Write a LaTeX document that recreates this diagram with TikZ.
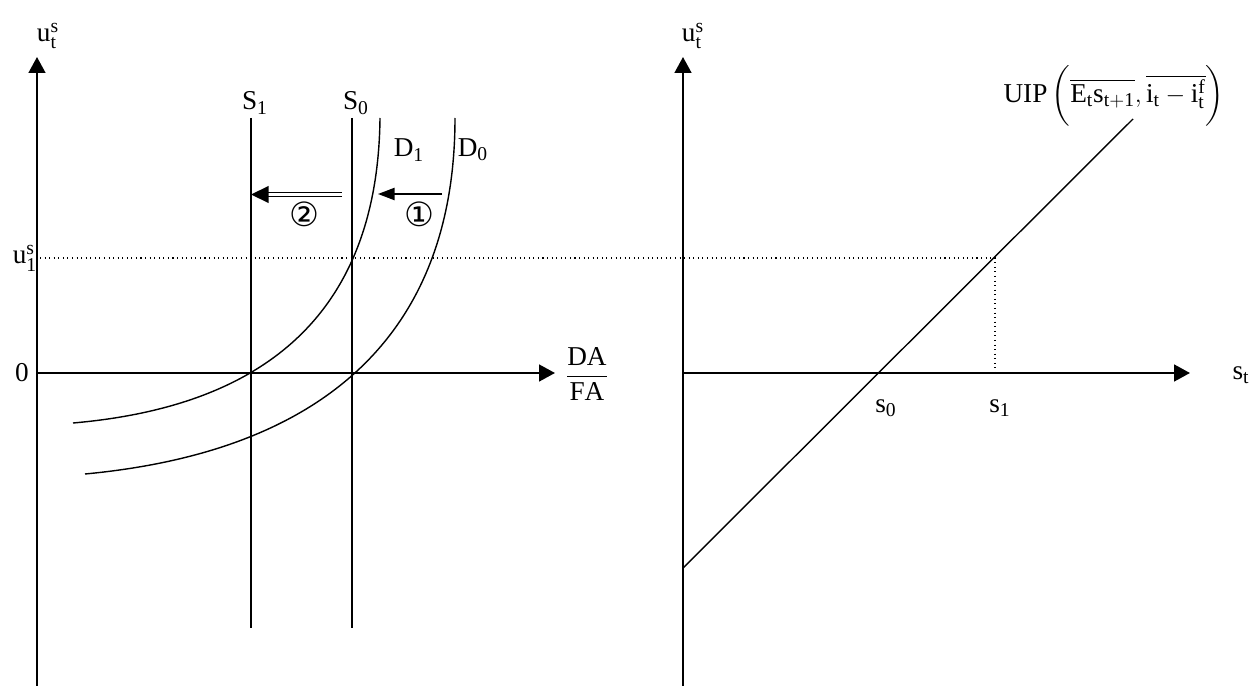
\documentclass[tikz,border=0pt]{standalone}
\usepackage{amsmath}
\usepackage{fontspec}
\setmainfont{Liberation Serif}
\newfontfamily\symfont{DejaVu Sans}
\renewcommand\defaultscriptratio{.72}
\usetikzlibrary{arrows.meta,positioning}
\tikzset{
  axis/.style={-{Triangle[length=9pt,width=9.5pt]},line width=1.1pt},
  curve/.style={line width=0.8pt},
  level/.style={dotted,line width=0.6pt},
  shiftarr/.style={-{Triangle[length=9.5pt,width=7pt]},line width=0.9pt},
  shiftdbl/.style={-{Triangle[length=10pt,width=9.5pt]},double,double distance=1.3pt,line width=0.9pt},
  lab/.style={font=\fontsize{15.5}{18}\selectfont,inner sep=0pt},
  num/.style={font=\symfont\fontsize{19}{21}\selectfont,inner sep=0pt}}

\begin{document}
\begin{tikzpicture}[x=0.02cm,y=-0.02cm]
  \useasboundingbox (0,0) rectangle (1259,686);
  \coordinate (l-bot) at (37,686);
  \coordinate (l-top) at (37,57);
  \coordinate (l-org) at (37,373);
  \coordinate (l-end) at (555,373);
  \coordinate (r-bot) at (683,686);
  \coordinate (r-top) at (683,57);
  \coordinate (r-org) at (683,373);
  \coordinate (r-end) at (1190,373);
  \draw[axis] (l-bot) -- (l-top);
  \draw[axis] (l-org) -- (l-end);
  \draw[axis] (r-bot) -- (r-top);
  \draw[axis] (r-org) -- (r-end);
  \node[lab] (ut-l) at (48,36) {$\mathrm{u_t^s}$};
  \node[lab] (ut-r) at (693,36) {$\mathrm{u_t^s}$};
  \node[lab] (zero) at (22,373) {0};
  \node[lab] (u1) at (25,258) {$\mathrm{u_1^s}$};
  \node[lab] (dafa) at (587,374) {$\dfrac{\mathrm{DA}}{\mathrm{FA}}$};
  \node[lab] (st) at (1241,375) {$\mathrm{s_t}$};
  % supply and demand, left panel
  \coordinate (s1-top) at (251,118);
  \coordinate (s1-bot) at (251,628);
  \coordinate (s0-top) at (352,118);
  \coordinate (s0-bot) at (352,628);
  \draw[curve] (s1-top) -- (s1-bot);
  \draw[curve] (s0-top) -- (s0-bot);
  \node[lab] (S1) at (255,103) {$\mathrm{S_1}$};
  \node[lab] (S0) at (356,103) {$\mathrm{S_0}$};
  \coordinate (d1-a) at (73,423);
  \coordinate (d1-b) at (380,118);
  \coordinate (d0-a) at (85,474);
  \coordinate (d0-b) at (455,118);
  \draw[curve] (d1-a) .. controls (280,405) and (378,300) .. (d1-b);
  \draw[curve] (d0-a) .. controls (340,450) and (455,320) .. (d0-b);
  \node[lab] (D1) at (409,150) {$\mathrm{D_1}$};
  \node[lab] (D0) at (473,150) {$\mathrm{D_0}$};
  \coordinate (a1-from) at (442,194);
  \coordinate (a1-to) at (378,194);
  \coordinate (a2-from) at (342,194.5);
  \coordinate (a2-to) at (251,194.5);
  \draw[shiftarr] (a1-from) -- (a1-to);
  \draw[shiftdbl] (a2-from) -- (a2-to);
  \node[num] (n1) at (419,214) {①};
  \node[num] (n2) at (304,214) {②};
  % UIP, right panel
  \coordinate (uip-a) at (683,568);
  \coordinate (uip-b) at (1133,119);
  \draw[curve] (uip-a) -- (uip-b);
  \node[lab] (uip) at (1114,96) {$\mathrm{UIP}\left(\rule[-12pt]{0pt}{32pt}\overline{\mathrm{E_t s_{t+1}}},\overline{\mathrm{i_t}-\mathrm{i_t^f}}\right)$};
  \node[lab] (s0) at (886,408) {$\mathrm{s_0}$};
  \node[lab] (s1) at (1000,408) {$\mathrm{s_1}$};
  \coordinate (lv-a) at (40,258);
  \coordinate (lv-b) at (995,258);
  \coordinate (lv-c) at (995,373);
  \draw[level] (lv-a) -- (lv-b) -- (lv-c);
\end{tikzpicture}
\end{document}
